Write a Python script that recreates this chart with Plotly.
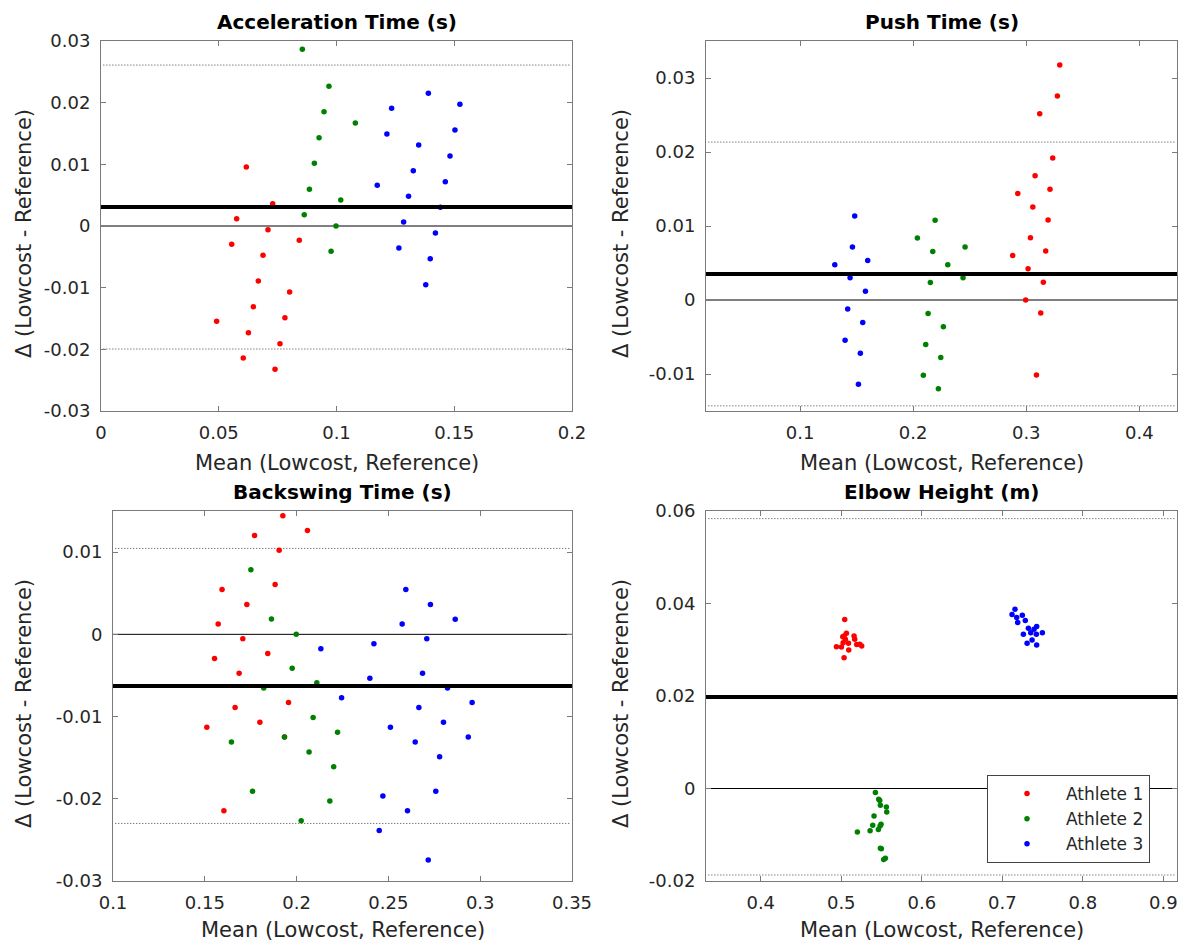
import plotly.graph_objects as go

# ---------------- data ----------------
athletes = ["Athlete 1", "Athlete 2", "Athlete 3"]
colors = ["#FF0000", "#008000", "#0000FF"]

# Acceleration Time (s)
acc_a1_x = [0.0617, 0.0729, 0.0576, 0.0709, 0.0555, 0.0842, 0.0688, 0.0668, 0.0801, 0.0647, 0.0781, 0.0491, 0.0626, 0.0760, 0.0604, 0.0739]
acc_a1_y = [0.00957, 0.00362, 0.00119, -0.00059, -0.00297, -0.00232, -0.00476, -0.00892, -0.0107, -0.01308, -0.01486, -0.01546, -0.0173, -0.01908, -0.0214, -0.02324]
acc_a2_x = [0.0855, 0.0968, 0.0947, 0.1080, 0.0926, 0.0906, 0.0885, 0.1018, 0.0863, 0.0998, 0.0977]
acc_a2_y = [0.02865, 0.02265, 0.01854, 0.0167, 0.01432, 0.01016, 0.00595, 0.00422, 0.00184, 0.0, -0.00411]
acc_a3_x = [0.1390, 0.1234, 0.1524, 0.1214, 0.1503, 0.1349, 0.1482, 0.1326, 0.1173, 0.1462, 0.1306, 0.1441, 0.1285, 0.1420, 0.1265, 0.1398, 0.1379]
acc_a3_y = [0.02151, 0.01908, 0.01973, 0.01492, 0.01557, 0.01314, 0.01135, 0.00897, 0.00659, 0.00719, 0.00481, 0.00303, 0.00065, -0.00114, -0.00357, -0.0053, -0.00951]

# Push Time (s)
push_a1_x = [0.3296, 0.3275, 0.3119, 0.3234, 0.3078, 0.2925, 0.3210, 0.3058, 0.3193, 0.3037, 0.2880, 0.3172, 0.3016, 0.3151, 0.2995, 0.3128, 0.3090]
push_a1_y = [0.03176, 0.02756, 0.02516, 0.01919, 0.01679, 0.01439, 0.01498, 0.01258, 0.01081, 0.00842, 0.00602, 0.00661, 0.00421, 0.0024, 0.0, -0.00176, -0.01014]
push_a2_x = [0.2194, 0.2037, 0.2173, 0.2459, 0.2306, 0.2441, 0.2152, 0.2132, 0.2267, 0.2111, 0.2244, 0.2090, 0.2223]
push_a2_y = [0.01077, 0.00837, 0.00656, 0.00715, 0.00475, 0.00299, 0.00235, -0.00181, -0.00362, -0.00602, -0.00778, -0.01018, -0.01199]
push_a3_x = [0.1483, 0.1463, 0.1598, 0.1307, 0.1442, 0.1578, 0.1421, 0.1554, 0.1398, 0.1533, 0.1516]
push_a3_y = [0.01136, 0.00715, 0.00534, 0.00475, 0.00299, 0.00118, -0.00122, -0.00303, -0.00543, -0.00719, -0.0114]

# Backswing Time (s)
back_a1_x = [0.1925, 0.2059, 0.1771, 0.1905, 0.1883, 0.1594, 0.1729, 0.1573, 0.1707, 0.1843, 0.1553, 0.1687, 0.1956, 0.1665, 0.1800, 0.1511, 0.1934, 0.1604]
back_a1_y = [0.01443, 0.01264, 0.01203, 0.01024, 0.00606, 0.00545, 0.00362, 0.00126, -0.00053, -0.00232, -0.00293, -0.00472, -0.00829, -0.0089, -0.01069, -0.0113, -0.01248, -0.02146]
back_a2_x = [0.1751, 0.1863, 0.1998, 0.1976, 0.2110, 0.1821, 0.2090, 0.2223, 0.1645, 0.1934, 0.2068, 0.2202, 0.1760, 0.2181, 0.2025]
back_a2_y = [0.00785, 0.00187, 0.0, -0.00411, -0.00589, -0.00654, -0.01012, -0.01191, -0.01309, -0.01248, -0.01431, -0.0161, -0.01907, -0.02028, -0.02268]
back_a3_x = [0.2595, 0.2729, 0.2864, 0.2575, 0.2709, 0.2421, 0.2132, 0.2686, 0.2399, 0.2822, 0.2245, 0.2956, 0.2666, 0.2800, 0.2511, 0.2935, 0.2646, 0.2779, 0.2470, 0.2758, 0.2604, 0.2450, 0.2717]
back_a3_y = [0.00545, 0.00362, 0.00183, 0.00126, -0.00053, -0.00114, -0.00175, -0.00472, -0.00533, -0.00654, -0.00772, -0.00829, -0.0089, -0.01069, -0.0113, -0.01248, -0.01309, -0.01488, -0.01967, -0.01907, -0.02146, -0.02386, -0.02744]

# Elbow Height (m)
elb_a1_x = [0.5043, 0.5035, 0.5064, 0.5019, 0.5159, 0.5051, 0.5167, 0.5023, 0.5089, 0.5192, 0.4940, 0.5002, 0.5254, 0.5093, 0.5035, 0.5230]
elb_a1_y = [0.03652, 0.03297, 0.03355, 0.03280, 0.03297, 0.03225, 0.03225, 0.03152, 0.03138, 0.03116, 0.03065, 0.03058, 0.03080, 0.02993, 0.02826, 0.03120]
elb_a2_x = [0.5424, 0.5465, 0.5478, 0.5486, 0.5560, 0.5565, 0.5407, 0.5391, 0.5494, 0.5482, 0.5461, 0.5358, 0.5200, 0.5486, 0.5498, 0.5527, 0.5548]
elb_a2_y = [-0.00087, -0.00232, -0.00261, -0.00362, -0.00399, -0.00507, -0.00594, -0.00797, -0.00775, -0.00812, -0.00884, -0.00913, -0.00942, -0.0129, -0.01304, -0.01536, -0.01507]
elb_a3_x = [0.7158, 0.7121, 0.7249, 0.7179, 0.7191, 0.7286, 0.7324, 0.7427, 0.7394, 0.7353, 0.7498, 0.7262, 0.7423, 0.7370, 0.7308, 0.7427]
elb_a3_y = [0.03877, 0.03761, 0.03746, 0.03696, 0.03587, 0.0363, 0.03464, 0.035, 0.03442, 0.0337, 0.0337, 0.03333, 0.03333, 0.0321, 0.03138, 0.03101]

titles = ["Acceleration Time (s)", "Push Time (s)", "Backswing Time (s)", "Elbow Height (m)"]
bias = [0.00308, 0.00350, -0.00627, 0.0198]
upper_loa = [0.0261, 0.02134, 0.01045, 0.05835]
lower_loa = [-0.01995, -0.0143, -0.0230, -0.0187]

x_ranges = [[0, 0.2], [0.0168, 0.4333], [0.1, 0.35], [0.332, 0.917]]
y_ranges = [[-0.03, 0.03], [-0.015, 0.035], [-0.03, 0.015], [-0.02, 0.06]]

x_tickvals = [[0, 0.05, 0.1, 0.15, 0.2], [0.1, 0.2, 0.3, 0.4], [0.1, 0.15, 0.2, 0.25, 0.3, 0.35], [0.4, 0.5, 0.6, 0.7, 0.8, 0.9]]
x_ticktext = [["0", "0.05", "0.1", "0.15", "0.2"], ["0.1", "0.2", "0.3", "0.4"], ["0.1", "0.15", "0.2", "0.25", "0.3", "0.35"], ["0.4", "0.5", "0.6", "0.7", "0.8", "0.9"]]
y_tickvals = [[-0.03, -0.02, -0.01, 0, 0.01, 0.02, 0.03], [-0.01, 0, 0.01, 0.02, 0.03], [-0.03, -0.02, -0.01, 0, 0.01], [-0.02, 0, 0.02, 0.04, 0.06]]
y_ticktext = [["-0.03", "-0.02", "-0.01", "0", "0.01", "0.02", "0.03"], ["-0.01", "0", "0.01", "0.02", "0.03"], ["-0.03", "-0.02", "-0.01", "0", "0.01"], ["-0.02", "0", "0.02", "0.04", "0.06"]]

xlabel = "Mean (Lowcost, Reference)"
ylabel = "Δ (Lowcost - Reference)"

panels = [
    [(acc_a1_x, acc_a1_y), (acc_a2_x, acc_a2_y), (acc_a3_x, acc_a3_y)],
    [(push_a1_x, push_a1_y), (push_a2_x, push_a2_y), (push_a3_x, push_a3_y)],
    [(back_a1_x, back_a1_y), (back_a2_x, back_a2_y), (back_a3_x, back_a3_y)],
    [(elb_a1_x, elb_a1_y), (elb_a2_x, elb_a2_y), (elb_a3_x, elb_a3_y)],
]

# ---------------- layout geometry ----------------
W, H = 1179, 943
FONT = "DejaVu Sans, Liberation Sans, Arial, sans-serif"
TXT = "#262626"
FRAME = "#7a7a7a"

# pixel boxes of the four axes: (left, right, top, bottom)
boxes = [(101, 572, 41, 411), (706, 1177, 41, 411), (113, 572, 511, 881), (706, 1177, 511, 881)]
xlabel_offset = [52, 52, 49, 49]

fig = go.Figure()
layout = dict(
    width=W, height=H,
    margin=dict(l=0, r=0, t=0, b=0, pad=0, autoexpand=False),
    paper_bgcolor="white", plot_bgcolor="white",
    font=dict(family=FONT, size=18, color=TXT),
    showlegend=True,
)

annotations = []
shapes = []
for i in range(4):
    n = "" if i == 0 else str(i + 1)
    l, r, t, b = boxes[i]
    xd = [l / W, r / W]
    yd = [1 - b / H, 1 - t / H]
    axis_common = dict(
        showgrid=False, zeroline=False, showline=True, linecolor=FRAME, linewidth=1,
        mirror="allticks", ticks="inside", ticklen=5, tickcolor=FRAME, automargin=False,
        tickfont=dict(family=FONT, size=18, color=TXT),
    )
    layout["xaxis" + n] = dict(axis_common, domain=xd, range=x_ranges[i], anchor="y" + n,
                               tickvals=x_tickvals[i], ticktext=x_ticktext[i], ticklabelstandoff=5)
    layout["yaxis" + n] = dict(axis_common, domain=yd, range=y_ranges[i], anchor="x" + n,
                               tickvals=y_tickvals[i], ticktext=y_ticktext[i], ticklabelstandoff=6)

    for k in range(3):
        xs, ys = panels[i][k]
        fig.add_trace(go.Scatter(
            x=xs, y=ys, mode="markers", name=athletes[k],
            marker=dict(color=colors[k], size=5.5, line=dict(width=0)),
            xaxis="x" + n, yaxis="y" + n,
            showlegend=(i == 3), legendrank=k + 1,
        ))

    # reference lines (zero, bias, limits of agreement)
    shapes.append(dict(type="line", xref="x" + n + " domain", yref="y" + n, x0=0, x1=1, y0=0, y1=0,
                       line=dict(color="black", width=1), layer="below"))
    shapes.append(dict(type="line", xref="x" + n + " domain", yref="y" + n, x0=0, x1=1, y0=bias[i], y1=bias[i],
                       line=dict(color="black", width=4), layer="above"))
    for v in (upper_loa[i], lower_loa[i]):
        shapes.append(dict(type="line", xref="x" + n + " domain", yref="y" + n, x0=0.005, x1=0.995, y0=v, y1=v,
                           line=dict(color="#444444", width=1, dash="1px,2px"), layer="below"))

    cx = (l + r) / 2 / W
    # title
    annotations.append(dict(text="<b>" + titles[i] + "</b>", x=cx, y=1 - (t - 5) / H, xref="paper", yref="paper",
                            xanchor="center", yanchor="bottom", showarrow=False,
                            font=dict(family=FONT, size=20, color="black")))
    # x label
    annotations.append(dict(text=xlabel, x=cx, y=1 - (b + xlabel_offset[i]) / H, xref="paper", yref="paper",
                            xanchor="center", yanchor="middle", showarrow=False,
                            font=dict(family=FONT, size=21, color=TXT)))
    # y label
    ylx = 24 if i in (0, 2) else 621
    annotations.append(dict(text=ylabel, x=ylx / W, y=1 - ((t + b) / 2 + 8) / H, xref="paper", yref="paper",
                            xanchor="center", yanchor="middle", textangle=-90, showarrow=False,
                            font=dict(family=FONT, size=21, color=TXT)))

layout["annotations"] = annotations
layout["shapes"] = shapes
layout["legend"] = dict(
    x=987 / W, y=1 - 775 / H, xanchor="left", yanchor="top",
    bgcolor="white", bordercolor="#444444", borderwidth=1,
    font=dict(family=FONT, size=17, color=TXT),
    itemwidth=68, tracegroupgap=0,
    traceorder="normal",
)
fig.update_layout(**layout)
fig.write_html(
    "out.html",
    config={"displayModeBar": False},
    post_script="document.body.style.margin='0';document.body.style.padding='0';document.body.style.overflow='hidden';",
)
